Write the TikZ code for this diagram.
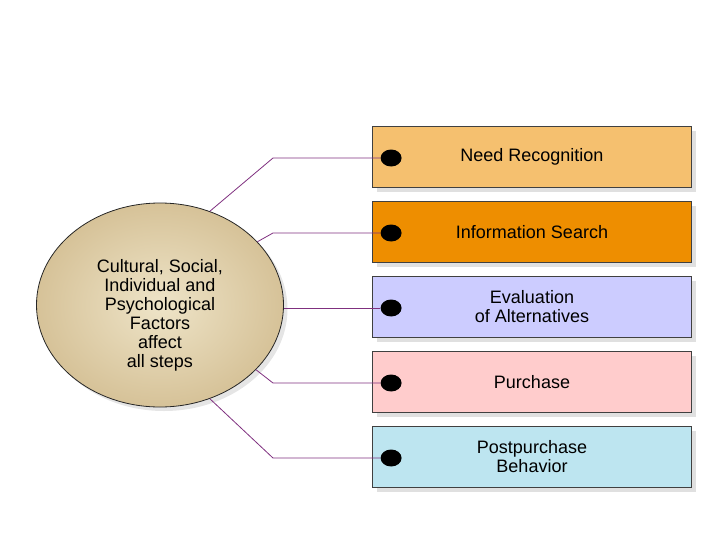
\documentclass[tikz,border=0pt]{standalone}
\usepackage{fontspec}
\setmainfont{Liberation Sans}
\usepackage{tikz}
\usetikzlibrary{positioning,shadows,shapes.geometric}
\usepackage{xcolor}
\definecolor{edge}{HTML}{404040}
\definecolor{plum}{HTML}{7F307F}
\definecolor{needc}{HTML}{F5C06F}
\definecolor{infoc}{HTML}{EE8E00}
\definecolor{evalc}{HTML}{CCCCFF}
\definecolor{buyc}{HTML}{FFCCCC}
\definecolor{postc}{HTML}{BDE5F0}
\definecolor{tanin}{HTML}{EEE4C8}
\definecolor{tanout}{HTML}{D6C298}
\tikzset{stepbox/.style={draw=edge,line width=.8pt,minimum width=319pt,minimum height=61pt,align=center,drop shadow={fill=black!12,opacity=1,shadow xshift=4pt,shadow yshift=-4pt}},
bullet/.style={ellipse,fill=black,inner sep=0pt,minimum width=21pt,minimum height=17pt},
factorblob/.style={ellipse,draw=black!85,line width=.8pt,inner color=tanin,outer color=tanout,minimum width=247pt,minimum height=204pt,inner sep=0pt,drop shadow={fill=black!10,opacity=1,shadow xshift=4pt,shadow yshift=-4pt}},
link/.style={draw=plum,line width=.8pt},
txt/.style={font=\fontsize{18}{19}\selectfont}}

\begin{document}
\begin{tikzpicture}[x=1pt,y=-1pt,every node/.style={txt}]
\useasboundingbox (0,0) rectangle (728,546);
\node[factorblob] (factors) at (160,305) {};
\node[align=center] (factortxt) at (160,315) {Cultural, Social,\\Individual and\\Psychological\\Factors\\affect\\all steps};
\foreach \i/\col/\lbl in {1/needc/{Need Recognition},2/infoc/{Information Search},3/evalc/{Evaluation\\of Alternatives},4/buyc/{Purchase},5/postc/{Postpurchase\\Behavior}}{
  \node[stepbox,fill=\col] (box\i) at (532,82+75*\i) {\lbl};
  \node[bullet,xshift=19pt,yshift=-1pt] (dot\i) at (box\i.west) {};}
\coordinate (bend) at (273,0);
\foreach \i/\a in {1/62,2/33,4/-34,5/-62}{\draw[link] (factors.\a) -- (bend |- dot\i) -- (dot\i.west);}
\draw[link] (factors.east |- dot3) -- (dot3.west);
\end{tikzpicture}
\end{document}
